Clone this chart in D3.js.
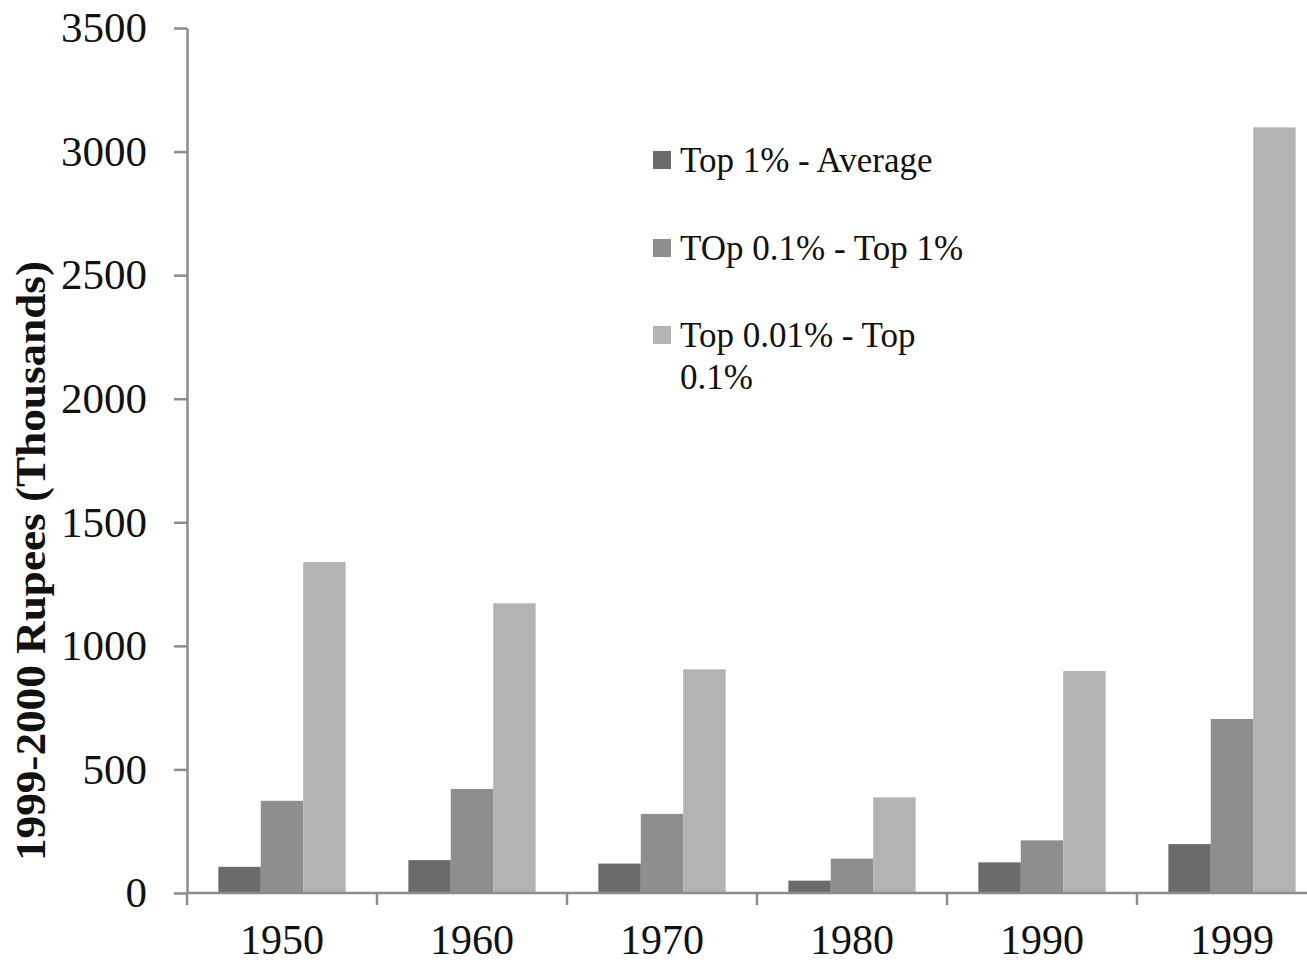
<!DOCTYPE html>
<html><head><meta charset="utf-8">
<script src="https://cdn.jsdelivr.net/npm/d3@7"></script>
<style>body{margin:0;background:#fff}svg{display:block}</style>
</head><body>
<svg id="c" width="1307" height="965"></svg>
<script>
const categories = ["1950","1960","1970","1980","1990","1999"];
const seriesNames = ["Top 1% - Average","TOp 0.1% - Top 1%","Top 0.01% - Top 0.1%"];
const top1Avg = [106, 133, 119, 50, 124, 198];
const top01Top1 = [373, 421, 320, 139, 213, 704];
const top001Top01 = [1339, 1172, 905, 387, 898, 3098];
const yTicks = [0, 500, 1000, 1500, 2000, 2500, 3000, 3500];
const colors = ["#6b6b6b", "#8f8d8e", "#b3b3b3"];
const series = [top1Avg, top01Top1, top001Top01];

const svg = d3.select("#c");
const font = "'Liberation Serif', serif";
const axisColor = "#8c8c8c";

const x0 = d3.scaleBand().domain(categories).range([187, 1327]).paddingInner(0.33).paddingOuter(0.165);
const x1 = d3.scaleBand().domain(d3.range(3)).range([0, x0.bandwidth()]);
const y = d3.scaleLinear().domain([0, 3500]).range([893, 28]);

// bars
categories.forEach((c, i) => {
  series.forEach((s, k) => {
    svg.append("rect")
      .attr("x", x0(c) + x1(k))
      .attr("y", y(s[i]))
      .attr("width", x1.bandwidth())
      .attr("height", y(0) - y(s[i]))
      .attr("fill", colors[k]);
  });
});

// y axis
const ya = svg.append("g").attr("transform", "translate(187,0)")
  .call(d3.axisLeft(y).tickValues(yTicks).tickFormat(d3.format("d")).tickSize(13).tickSizeOuter(0).tickPadding(27));
ya.select(".domain").attr("stroke", axisColor).attr("stroke-width", 2.5);
ya.selectAll(".tick line").attr("stroke", axisColor).attr("stroke-width", 2.5);
ya.selectAll(".tick text").attr("font-family", font).attr("font-size", 43).attr("fill", "#111");

// x axis
const xb = d3.scaleLinear().domain([0, 6]).range([187, 1327]);
svg.append("line").attr("x1", 187).attr("x2", 1307).attr("y1", y(0)).attr("y2", y(0))
  .attr("stroke", axisColor).attr("stroke-width", 2.5);
d3.range(7).forEach(i => {
  svg.append("line").attr("x1", xb(i)).attr("x2", xb(i)).attr("y1", y(0)).attr("y2", y(0) + 12)
    .attr("stroke", axisColor).attr("stroke-width", 2.5);
});
categories.forEach(c => {
  svg.append("text").attr("x", x0(c) + x0.bandwidth() / 2).attr("y", 954)
    .attr("text-anchor", "middle").attr("font-family", font).attr("font-size", 42)
    .attr("fill", "#111").text(c);
});

// y title
svg.append("text").attr("transform", "translate(45,561) rotate(-90)")
  .attr("text-anchor", "middle").attr("font-family", font).attr("font-weight", "bold")
  .attr("font-size", 42).attr("textLength", 600).attr("lengthAdjust", "spacingAndGlyphs")
  .attr("fill", "#111").text("1999-2000 Rupees (Thousands)");

// legend
const legY = [160, 248, 335];
seriesNames.forEach((n, k) => {
  svg.append("rect").attr("x", 653).attr("y", legY[k] - 9).attr("width", 18).attr("height", 18).attr("fill", colors[k]);
  const t = svg.append("text").attr("x", 680).attr("y", legY[k] + 12)
    .attr("font-family", font).attr("font-size", 35).attr("fill", "#111");
  if (k === 2) {
    t.append("tspan").attr("x", 680).text("Top 0.01% - Top");
    t.append("tspan").attr("x", 680).attr("dy", 42).text("0.1%");
  } else {
    t.text(n);
  }
});
</script>
</body></html>
